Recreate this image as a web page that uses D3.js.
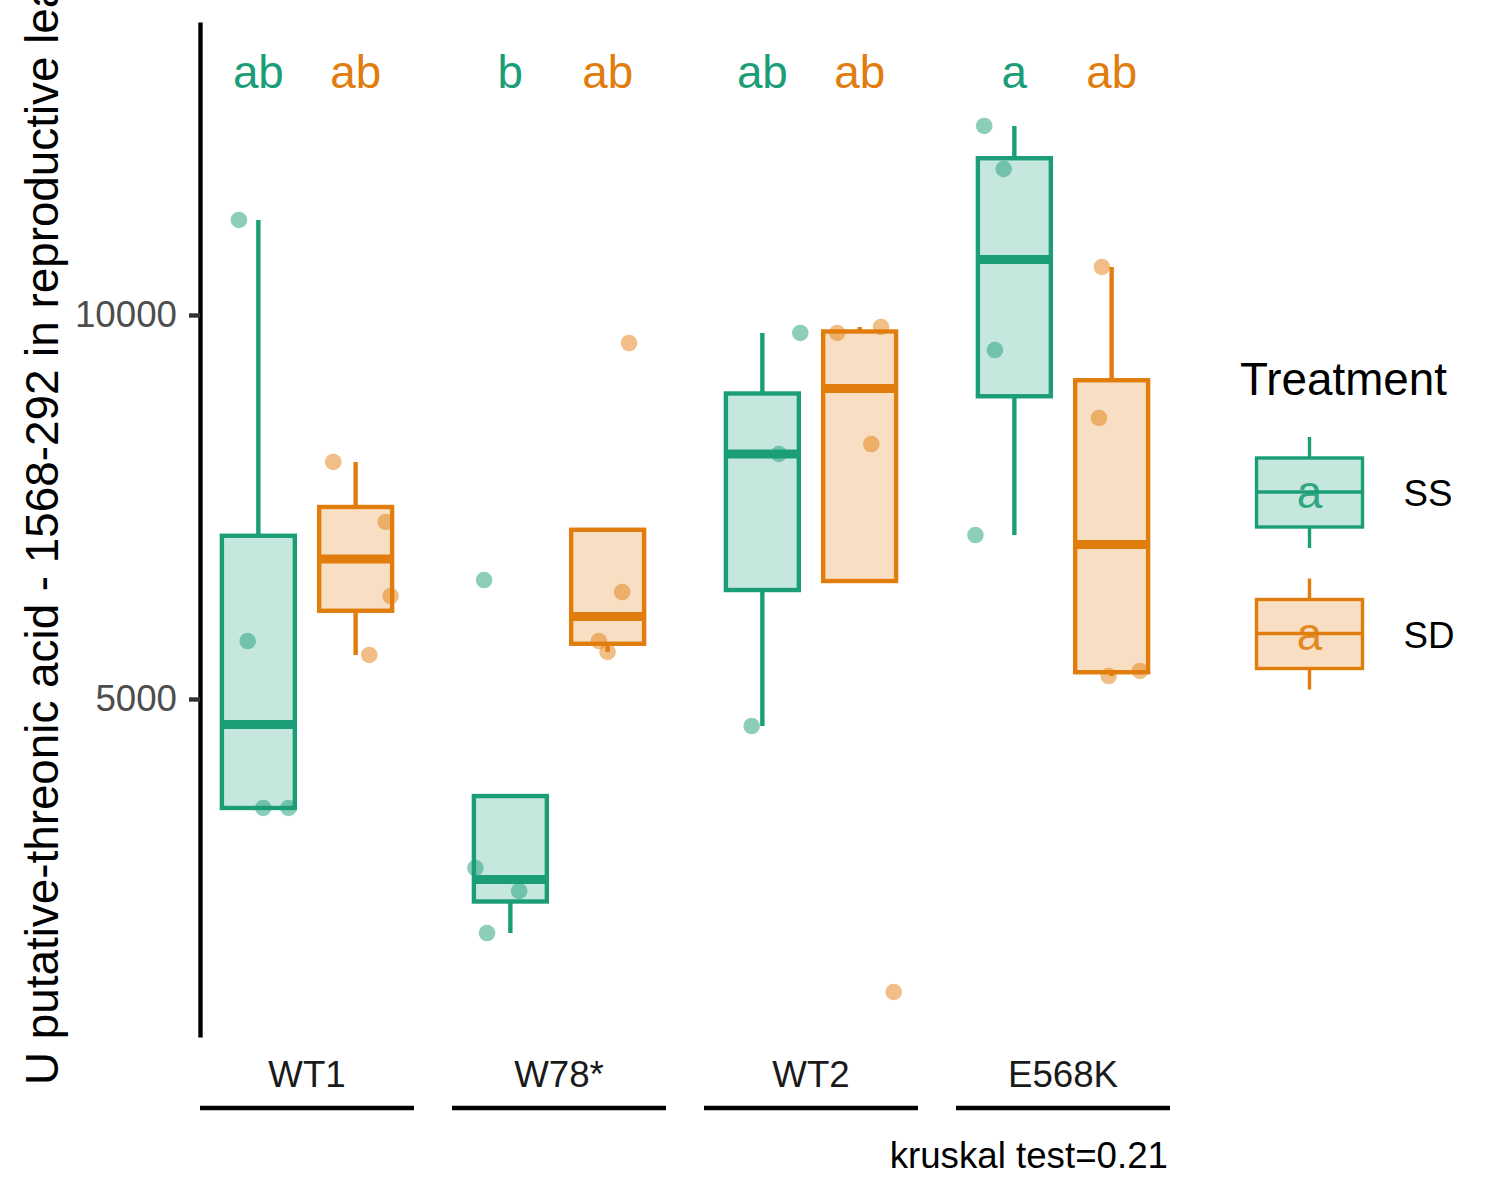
<html>
  <script src="https://d3js.org/d3.v7.min.js"></script>
  <style>
    body {
      margin: 0;
      background: white;
    }
    svg text {
      font-family: "Liberation Sans", Arial, sans-serif;
    }
  </style>
  <body onload="main()">
    <svg width="1500" height="1200"></svg>
    <script>
      // groups and treatments
      const genotypes = ["WT1", "W78*", "WT2", "E568K"];
      const treatments = ["SS", "SD"];

      // raw values per genotype (read from the jittered points)
      const ssValues = [
        [11237, 5755, 3581, 3581],
        [6549, 2799, 2500, 1953],
        [9766, 8190, 4648],
        [12461, 11901, 9544, 7135],
      ];
      const sdValues = [
        [8086, 7305, 6341, 5573],
        [9635, 6393, 5755, 5612],
        [9766, 8320, 9844, 1185],
        [10625, 8659, 5299, 5365],
      ];

      // horizontal jitter of each point, in category units
      const ssJitter = [
        [-0.2, -0.11, 0.05, 0.31],
        [-0.27, -0.36, 0.09, -0.24],
        [0.39, 0.17, -0.11],
        [-0.31, -0.11, -0.2, -0.4],
      ];
      const sdJitter = [
        [-0.23, 0.31, 0.36, 0.14],
        [0.22, 0.15, -0.09, 0.0],
        [-0.23, 0.12, 0.22, 0.35],
        [-0.1, -0.13, -0.03, 0.29],
      ];

      // compact letter display above each box
      const ssLetters = ["ab", "b", "ab", "a"];
      const sdLetters = ["ab", "ab", "ab", "ab"];

      const yTicks = [5000, 10000];
      const yTitle =
        "U putative-threonic acid - 1568-292 in reproductive leaves";
      const caption = "kruskal test=0.21";

      function main() {
        var svg = d3.select("svg");
        var colors = { SS: "#1B9E77", SD: "#E17D0D" };
        var fills = {
          SS: d3.interpolateRgb("white", colors.SS)(0.25),
          SD: d3.interpolateRgb("white", colors.SD)(0.25),
        };
        var lw = 4.4;

        var panelLeft = 200,
          panelRight = 1170,
          panelTop = 22,
          panelBottom = 1037;

        var xGroup = d3
          .scaleBand()
          .domain(genotypes)
          .range([panelLeft, panelRight])
          .paddingInner(38 / 252)
          .paddingOuter(0);

        var xInner = d3
          .scaleLinear()
          .domain([0.4, 2.6])
          .range([0, xGroup.bandwidth()]);

        var y = d3
          .scaleLinear()
          .domain([599, 13815])
          .range([panelBottom, panelTop]);

        // box width 0.75 of a category
        var boxW = xInner(1.75) - xInner(1);

        function boxStats(vals) {
          var s = vals.slice().sort(d3.ascending);
          var q1 = d3.quantileSorted(s, 0.25);
          var med = d3.quantileSorted(s, 0.5);
          var q3 = d3.quantileSorted(s, 0.75);
          var iqr = q3 - q1;
          var inside = s.filter(
            (v) => v >= q1 - 1.5 * iqr && v <= q3 + 1.5 * iqr
          );
          return { q1: q1, med: med, q3: q3, lo: d3.min(inside), hi: d3.max(inside) };
        }

        var series = [];
        genotypes.forEach(function (g, gi) {
          treatments.forEach(function (t, ti) {
            var vals = t == "SS" ? ssValues[gi] : sdValues[gi];
            var jit = t == "SS" ? ssJitter[gi] : sdJitter[gi];
            series.push({
              geno: g,
              treat: t,
              pos: ti + 1,
              values: vals,
              jitter: jit,
              letter: t == "SS" ? ssLetters[gi] : sdLetters[gi],
              stats: boxStats(vals),
            });
          });
        });

        function cx(d) {
          return xGroup(d.geno) + xInner(d.pos);
        }

        // boxes
        var boxes = svg
          .append("g")
          .selectAll("g")
          .data(series)
          .enter()
          .append("g");

        boxes
          .filter((d) => d.stats.hi > d.stats.q3)
          .append("line")
          .attr("x1", cx)
          .attr("x2", cx)
          .attr("y1", (d) => y(d.stats.q3))
          .attr("y2", (d) => y(d.stats.hi))
          .attr("stroke", (d) => colors[d.treat])
          .attr("stroke-width", lw);

        boxes
          .filter((d) => d.stats.lo < d.stats.q1)
          .append("line")
          .attr("x1", cx)
          .attr("x2", cx)
          .attr("y1", (d) => y(d.stats.q1))
          .attr("y2", (d) => y(d.stats.lo))
          .attr("stroke", (d) => colors[d.treat])
          .attr("stroke-width", lw);

        boxes
          .append("rect")
          .attr("x", (d) => cx(d) - boxW / 2)
          .attr("width", boxW)
          .attr("y", (d) => y(d.stats.q3))
          .attr("height", (d) => y(d.stats.q1) - y(d.stats.q3))
          .attr("fill", (d) => fills[d.treat])
          .attr("stroke", (d) => colors[d.treat])
          .attr("stroke-width", lw);

        boxes
          .append("line")
          .attr("x1", (d) => cx(d) - boxW / 2)
          .attr("x2", (d) => cx(d) + boxW / 2)
          .attr("y1", (d) => y(d.stats.med))
          .attr("y2", (d) => y(d.stats.med))
          .attr("stroke", (d) => colors[d.treat])
          .attr("stroke-width", lw * 2);

        // jittered points
        var pts = [];
        series.forEach(function (d) {
          d.values.forEach(function (v, i) {
            pts.push({ geno: d.geno, treat: d.treat, pos: d.pos + d.jitter[i], value: v });
          });
        });

        svg
          .append("g")
          .selectAll("circle")
          .data(pts)
          .enter()
          .append("circle")
          .attr("cx", (d) => xGroup(d.geno) + xInner(d.pos))
          .attr("cy", (d) => y(d.value))
          .attr("r", 8.3)
          .attr("fill", (d) => colors[d.treat])
          .attr("fill-opacity", 0.5);

        // letters
        svg
          .append("g")
          .selectAll("text")
          .data(series)
          .enter()
          .append("text")
          .attr("x", cx)
          .attr("y", 88)
          .attr("text-anchor", "middle")
          .attr("font-size", 45.8)
          .attr("fill", (d) => colors[d.treat])
          .text((d) => d.letter);

        // y axis
        var yAxis = svg
          .append("g")
          .attr("transform", "translate(" + panelLeft + ",0)")
          .call(
            d3
              .axisLeft(y)
              .tickValues(yTicks)
              .tickFormat(d3.format("d"))
              .tickSize(11)
              .tickPadding(12)
              .tickSizeOuter(0)
          );
        yAxis.select(".domain").attr("stroke", "black").attr("stroke-width", lw);
        yAxis.selectAll(".tick line").attr("stroke", "#333333").attr("stroke-width", lw);
        yAxis
          .selectAll(".tick text")
          .attr("font-size", 36.7)
          .attr("fill", "#4D4D4D")
          .attr("font-family", "Liberation Sans, Arial, sans-serif");

        svg
          .append("text")
          .attr("transform", "translate(58,1085) rotate(-90)")
          .attr("text-anchor", "start")
          .attr("font-size", 45.8)
          .attr("fill", "black")
          .text(yTitle);

        // group strips at the bottom
        var strips = svg.append("g").selectAll("g").data(genotypes).enter().append("g");
        strips
          .append("text")
          .attr("x", (d) => xGroup(d) + xGroup.bandwidth() / 2)
          .attr("y", 1087)
          .attr("text-anchor", "middle")
          .attr("font-size", 36.7)
          .attr("fill", "#1A1A1A")
          .text((d) => d);
        strips
          .append("line")
          .attr("x1", (d) => xGroup(d))
          .attr("x2", (d) => xGroup(d) + xGroup.bandwidth())
          .attr("y1", 1108)
          .attr("y2", 1108)
          .attr("stroke", "black")
          .attr("stroke-width", lw);

        svg
          .append("text")
          .attr("x", 1168)
          .attr("y", 1168)
          .attr("text-anchor", "end")
          .attr("font-size", 36.7)
          .attr("fill", "black")
          .text(caption);

        // legend
        var legend = svg.append("g");
        legend
          .append("text")
          .attr("x", 1240)
          .attr("y", 395)
          .attr("font-size", 45.8)
          .text("Treatment");

        var keys = legend
          .selectAll("g")
          .data(treatments)
          .enter()
          .append("g")
          .attr("transform", (d, i) => "translate(1309.5," + (492 + i * 141.5) + ")");
        var klw = 3.4;
        keys
          .append("line")
          .attr("y1", -55)
          .attr("y2", 56)
          .attr("stroke", (d) => colors[d])
          .attr("stroke-width", klw);
        keys
          .append("rect")
          .attr("x", -53)
          .attr("width", 106)
          .attr("y", -34)
          .attr("height", 69)
          .attr("fill", (d) => fills[d])
          .attr("stroke", (d) => colors[d])
          .attr("stroke-width", klw);
        keys
          .append("line")
          .attr("x1", -53)
          .attr("x2", 53)
          .attr("stroke", (d) => colors[d])
          .attr("stroke-width", klw);
        keys
          .append("text")
          .attr("y", 16)
          .attr("text-anchor", "middle")
          .attr("font-size", 45.8)
          .attr("fill", (d) => colors[d])
          .attr("fill-opacity", 0.9)
          .text("a");
        keys
          .append("text")
          .attr("x", 94)
          .attr("y", 14)
          .attr("font-size", 36.7)
          .attr("fill", "black")
          .text((d) => d);
      }
    </script>
  </body>
</html>
